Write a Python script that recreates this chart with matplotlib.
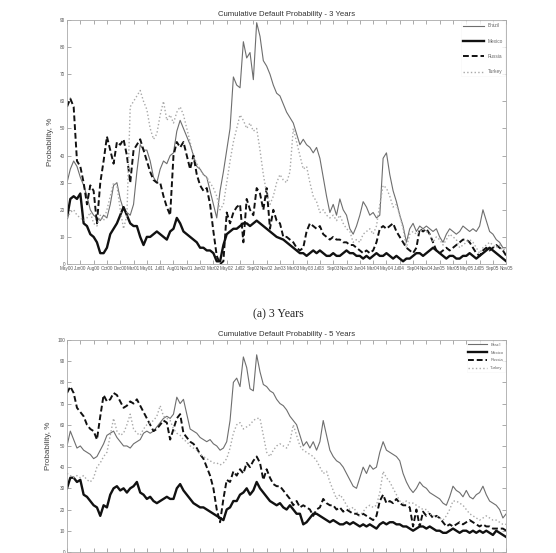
import numpy as np
import matplotlib
matplotlib.use("Agg")
import matplotlib.pyplot as plt

# etiquetas del eje x (una por marca)
fechas = ['May00', 'Jun00', 'Aug00', 'Oct00', 'Dec00', 'Mar01', 'May01', 'Jul01', 'Aug01',
          'Nov01', 'Jan02', 'Mar02', 'May02', 'Jul02', 'Sep02', 'Nov02', 'Jan03', 'Mar03',
          'May03', 'Jul03', 'Sep03', 'Nov03', 'Jan04', 'Mar04', 'May04', 'Jul04', 'Sep04',
          'Nov04', 'Jan05', 'Mar05', 'May05', 'Jul05', 'Sep05', 'Nov05']

paises = ['Brazil', 'Mexico', 'Russia', 'Turkey']

# probabilidad acumulada de default a 3 anos (%)
brazil_3y = [30, 35, 38, 36, 32, 29, 25, 20, 18, 17, 16, 18, 17, 22, 29, 30,
             24, 20, 19, 18, 22, 34, 44, 42, 42, 38, 32, 30, 35, 38, 37, 40,
             41, 49, 53, 50, 47, 44, 40, 36, 35, 33, 32, 27, 22, 17, 27, 34,
             42, 50, 69, 66, 65, 82, 76, 78, 68, 89, 84, 75, 73, 70, 66, 63,
             62, 59, 56, 54, 52, 48, 44, 46, 44, 43, 41, 43, 39, 32, 25, 19,
             22, 18, 24, 20, 18, 13, 11, 14, 18, 23, 21, 18, 19, 17, 18, 39,
             41, 33, 27, 23, 18, 14, 8, 13, 15, 12, 14, 13, 14, 13, 12, 13,
             10, 8, 11, 13, 12, 11, 12, 14, 13, 12, 13, 12, 14, 20, 16, 12,
             11, 9, 8, 6, 6]
mexico_3y = [17, 24, 25, 24, 26, 15, 14, 11, 10, 8, 4, 4, 6, 11, 13, 15,
             18, 21, 18, 15, 14, 14, 10, 7, 10, 10, 11, 12, 11, 10, 9, 12,
             13, 17, 15, 12, 11, 10, 9, 8, 6, 6, 5, 5, 4, 1, 1, 7,
             11, 12, 13, 13, 14, 15, 15, 14, 15, 16, 15, 14, 13, 12, 11, 10,
             9.5, 9, 8, 7, 6, 5, 4, 4, 3, 4, 5, 4, 5, 4, 3, 3,
             4, 3, 3, 4, 5, 4, 4, 3, 3, 2, 3, 2, 3, 4, 3, 3,
             4, 3, 2, 3, 2, 1, 2, 2, 3, 4, 4, 3, 4, 5, 6, 5,
             4, 3, 2, 3, 3, 2, 2, 3, 3, 4, 3, 2, 3, 4, 5, 6,
             5, 4, 3, 2, 1]
russia_3y = [58, 61, 58, 38, 36, 30, 22, 29, 27, 15, 30, 38, 47, 42, 37, 45,
             44, 46, 40, 30, 42, 44, 46, 42, 38, 34, 31, 30, 30, 25, 21, 18,
             40, 45, 43, 45, 40, 35, 40, 33, 29, 27, 28, 22, 12, 3, 0, 1,
             19, 15, 19, 21, 22, 8, 24, 20, 18, 28, 26, 20, 28, 13, 20, 16,
             15, 10, 10, 9, 8, 6, 5, 6, 12, 15, 14, 13, 14, 11, 10, 9,
             10, 9, 9, 8, 8, 7, 7, 6, 5, 4, 5, 4, 5, 8, 13, 14,
             13, 14, 15, 12, 10, 8, 6, 5, 4, 6, 13, 12, 13, 11, 8, 5,
             4, 5, 6, 5, 6, 7, 8, 9, 9, 8, 6, 4, 3, 5, 6, 5,
             6, 7, 6, 5, 3]
turkey_3y = [17, 19, 20, 18, 17, 16, 17, 19, 15, 14, 18, 16, 20, 25, 30, 29,
             20, 13, 18, 58, 60, 62, 64, 60, 57, 50, 46, 48, 55, 60, 53, 55,
             52, 56, 58, 55, 50, 45, 40, 37, 35, 33, 32, 30, 28, 25, 20, 22,
             30, 38, 45, 50, 55, 53, 50, 52, 49, 50, 42, 33, 26, 22, 25, 30,
             33, 31, 30, 34, 50, 45, 40, 35, 36, 30, 25, 23, 19, 20, 18, 17,
             18, 16, 18, 15, 13, 12, 8, 9, 8, 11, 12, 13, 11, 14, 22, 29,
             28, 25, 21, 22, 18, 13, 6, 11, 12, 11, 12, 13, 12, 11, 8, 10,
             9, 7, 9, 11, 10, 9, 6, 7, 8, 9, 8, 6, 4, 6, 7, 8,
             7, 6, 7, 5, 6]

# probabilidad acumulada de default a 5 anos (%)
brazil_5y = [50, 57, 53, 49, 50, 48, 47, 46, 44, 45, 48, 51, 55, 56, 57, 54,
             52, 50, 50, 49, 51, 52, 53, 56, 57, 56, 57, 59, 61, 63, 64, 63,
             65, 73, 70, 72, 65, 58, 57, 56, 54, 53, 52, 53, 51, 50, 48, 49,
             52, 62, 80, 82, 78, 92, 87, 77, 76, 93, 85, 79, 78, 76, 75, 72,
             70, 69, 67, 64, 62, 60, 55, 50, 52, 49, 52, 48, 52, 62, 55, 48,
             45, 43, 42, 40, 37, 34, 31, 30, 35, 40, 37, 41, 39, 40, 47, 52,
             48, 47, 46, 45, 43, 37, 33, 30, 28, 30, 33, 31, 30, 28, 27, 26,
             25, 23, 22, 26, 31, 29, 28, 26, 29, 26, 25, 27, 28, 31, 27, 24,
             23, 22, 20, 16, 18]
mexico_5y = [30, 35, 35, 33, 34, 27, 26, 24, 22, 21, 17, 22, 21, 27, 30, 31,
             29, 30, 28, 30, 31, 33, 28, 27, 25, 26, 24, 23, 24, 25, 26, 25,
             25, 30, 32, 29, 27, 25, 23, 22, 21, 21, 20, 19, 18, 17, 16, 15,
             20, 21, 24, 24, 27, 28, 30, 27, 29, 33, 30, 28, 26, 24, 23, 22,
             23, 21, 20, 22, 20, 18, 18, 13, 14, 16, 18, 18, 17, 16, 15, 14,
             15, 14, 13, 13, 14, 13, 14, 13, 12, 13, 12, 13, 12, 11, 13, 14,
             13, 14, 14, 13, 13, 12, 12, 11, 10, 11, 12, 12, 11, 12, 11, 10,
             10, 9, 9, 10, 11, 10, 9, 10, 10, 9, 10, 9, 10, 9, 10, 9,
             8, 10, 9, 8, 7]
russia_5y = [75, 78, 75, 68, 66, 64, 60, 58, 57, 53, 64, 74, 71, 72, 75, 74,
             71, 68, 69, 71, 70, 72, 69, 66, 63, 60, 57, 58, 60, 62, 61, 53,
             58, 63, 65, 56, 54, 52, 51, 49, 46, 44, 40, 36, 30, 20, 14, 25,
             34, 33, 38, 36, 39, 37, 42, 40, 43, 45, 42, 34, 39, 35, 32, 31,
             31, 29, 27, 25, 22, 24, 21, 22, 21, 20, 17, 20, 21, 25, 23, 22,
             22, 20, 21, 19, 20, 19, 18, 18, 17, 18, 17, 16, 15, 17, 24, 27,
             23, 24, 23, 25, 23, 22, 22, 21, 12, 20, 12, 19, 17, 18, 16, 17,
             16, 14, 12, 13, 12, 13, 14, 13, 14, 15, 14, 13, 12, 13, 12, 12,
             11, 11, 11, 11, 10]
turkey_5y = [37, 36, 35, 36, 35, 36, 34, 33, 35, 40, 42, 45, 47, 55, 63, 57,
             55, 56, 60, 65, 58, 56, 55, 58, 60, 61, 62, 64, 69, 64, 63, 62,
             58, 56, 55, 53, 52, 50, 49, 48, 46, 45, 44, 43, 42, 42, 41, 42,
             44, 49, 56, 60, 61, 58, 59, 60, 62, 63, 63, 55, 47, 45, 48, 50,
             51, 50, 49, 52, 60, 55, 50, 48, 47, 46, 45, 43, 40, 37, 38, 33,
             29, 25, 27, 25, 22, 20, 21, 19, 17, 19, 21, 22, 21, 22, 28, 38,
             35, 33, 30, 27, 24, 23, 24, 23, 23, 22, 21, 20, 20, 18, 17, 17,
             16, 15, 17, 20, 24, 24, 23, 22, 20, 18, 17, 16, 15, 16, 17, 16,
             15, 15, 14, 13, 13]

# estilo de cada pais: color, tipo de linea, grosor
estilos = {
    'Brazil': dict(color='#6e6e6e', linestyle='-', linewidth=0.8),
    'Mexico': dict(color='#111111', linestyle='-', linewidth=1.7),
    'Russia': dict(color='#111111', linestyle='--', linewidth=1.4, dashes=(3, 1.5)),
    'Turkey': dict(color='#a8a8a8', linestyle=':', linewidth=1.0),
}


def dibujar_panel(ax, series, titulo, ymax, espacio_leyenda, fs_leyenda):
    for nombre, valores in zip(paises, series):
        x = np.linspace(0, len(fechas) - 1, len(valores))
        ax.plot(x, valores, label=nombre, **estilos[nombre])
    ax.set_xlim(0, len(fechas) - 1)
    ax.set_ylim(0, ymax)
    ax.set_xticks(range(len(fechas)))
    ax.set_xticklabels(fechas, fontsize=3.35, color='#555555')
    ax.set_yticks(range(0, ymax + 1, 10))
    ax.tick_params(axis='y', labelsize=3.4, labelcolor='#555555')
    ax.tick_params(direction='in', length=3, width=0.5, color='#888888',
                   top=True, right=True, pad=1.5)
    for s in ax.spines.values():
        s.set_color('#aaaaaa')
        s.set_linewidth(0.6)
    ax.set_title(titulo, fontsize=5.6, color='#333333', pad=3)
    ax.set_ylabel('Probability, %', fontsize=5.8, color='#444444', labelpad=4)
    leg = ax.legend(loc='upper right', fontsize=fs_leyenda, frameon=True,
                    handlelength=4.5, labelspacing=espacio_leyenda,
                    borderaxespad=0.3, fancybox=False)
    leg.get_frame().set_edgecolor('#f4f4f4')
    leg.get_frame().set_linewidth(0.4)
    for t in leg.get_texts():
        t.set_color('#666666')


plt.rcParams['font.family'] = ['Liberation Sans', 'DejaVu Sans']
fig = plt.figure(figsize=(5.56, 5.53), dpi=100)

ax1 = fig.add_axes([0.1205, 0.5226, 0.790, 0.4412])
dibujar_panel(ax1, [brazil_3y, mexico_3y, russia_3y, turkey_3y],
              'Cumulative Default Probability - 3 Years', 90, 2.2, 3.4)

ax2 = fig.add_axes([0.1205, 0.0020, 0.790, 0.3832])
dibujar_panel(ax2, [brazil_5y, mexico_5y, russia_5y, turkey_5y],
              'Cumulative Default Probability - 5 Years', 100, 0.9, 3.0)

# leyenda de la subfigura
fig.text(0.5, 0.432, '(a) 3 Years', ha='center', va='center',
         fontsize=8.5, family='Liberation Serif', color='#222222')

fig.savefig('out.png', dpi=100)
